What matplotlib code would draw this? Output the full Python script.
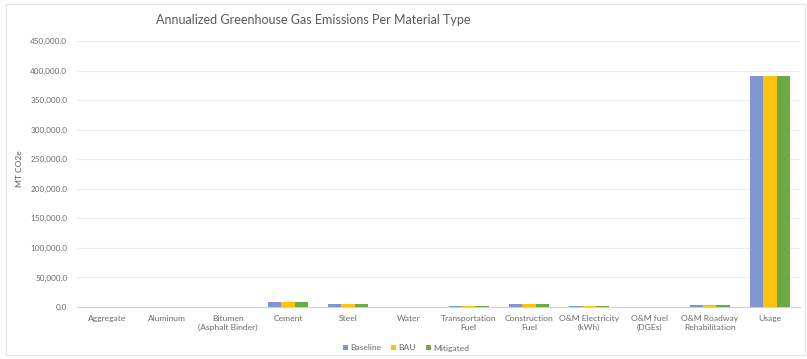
import numpy as np
import matplotlib.pyplot as plt
from matplotlib.patches import Rectangle

categories = ["Aggregate", "Aluminum", "Bitumen\n(Asphalt Binder)", "Cement", "Steel", "Water",
              "Transportation\nFuel", "Construction\nFuel", "O&M Electricity\n(kWh)", "O&M fuel\n(DGEs)",
              "O&M Roadway\nRehabilitation", "Usage"]
baseline = [600, 800, 700, 8500, 4500, 500, 1500, 5000, 1200, 300, 2800, 391000]
bau = [600, 800, 700, 8500, 4500, 500, 1500, 5000, 1200, 300, 2800, 391000]
mitigated = [600, 800, 700, 8500, 4500, 500, 1500, 5000, 1200, 300, 2800, 391000]
series = ["Baseline", "BAU", "Mitigated"]
colors = ["#7F96D0", "#FFC20E", "#6DAA45"]

plt.rcParams['font.family'] = ['Lato', 'DejaVu Sans']
fig = plt.figure(figsize=(8.07, 3.59), dpi=100)
ax = fig.add_axes([77 / 807, 1 - 307 / 359, 723 / 807, 266 / 359])

# chart border like the excel frame
fig.patches.append(Rectangle((6 / 807, 4 / 359), 799 / 807, 351 / 359, transform=fig.transFigure,
                             fill=False, edgecolor="#e3e3e3", linewidth=0.8))

x = np.arange(len(categories))
w = 0.22
for i, (name, vals) in enumerate(zip(series, [baseline, bau, mitigated])):
    ax.bar(x + (i - 1) * w, vals, w, color=colors[i], label=name, zorder=3)

ax.set_xlim(-0.5, len(categories) - 0.5)
ax.set_ylim(0, 450000)
ax.set_yticks(np.arange(0, 450001, 50000))
ax.set_yticklabels([f"{v:,.1f}" for v in np.arange(0, 450001, 50000)], fontsize=5.9, color="#6b6b6b")
ax.set_xticks(x)
ax.set_xticklabels(categories, fontsize=6.1, color="#6b6b6b")
ax.tick_params(axis="y", length=0, pad=7)
ax.tick_params(axis="x", length=0, pad=6)
ax.grid(axis="y", color="#ececec", linewidth=0.8, zorder=0)
for s in ["top", "right", "left"]:
    ax.spines[s].set_visible(False)
ax.spines["bottom"].set_color("#d0d0d0")
ax.set_ylabel("MT CO2e", fontsize=6.1, color="#595959")
ax.yaxis.set_label_coords(-54 / 723, 0.52)

fig.text(313 / 807, 1 - 20 / 359, "Annualized Greenhouse Gas Emissions Per Material Type",
         ha="center", va="center", fontsize=9.0, color="#595959")
fig.legend(loc="center", bbox_to_anchor=(406 / 807, 1 - 348 / 359), ncol=3, frameon=False,
           fontsize=6.1, handlelength=0.6, handleheight=0.6, columnspacing=1.1, handletextpad=0.3,
           labelcolor="#6b6b6b")

fig.savefig("out.png", dpi=100)
